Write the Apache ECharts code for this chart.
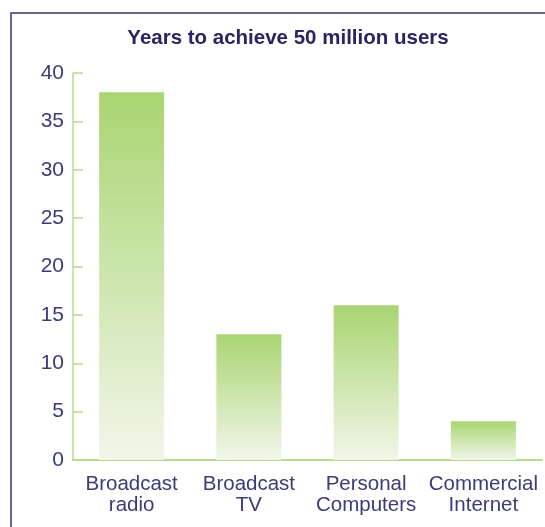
<!DOCTYPE html>
<html><head><meta charset="utf-8">
<script src="https://cdn.jsdelivr.net/npm/echarts@6/dist/echarts.min.js"></script>
<style>html,body{margin:0;padding:0;background:#fff}#c{width:545px;height:527px}</style>
</head><body><div id="c"></div>
<script>
const categories = ["Broadcast\nradio", "Broadcast\nTV", "Personal\nComputers", "Commercial\nInternet"];
const years = [38, 13, 16, 4];
const yTicks = [0, 5, 10, 15, 20, 25, 30, 35, 40];
const titleText = "Years to achieve 50 million users";

const chart = echarts.init(document.getElementById('c'), null, {renderer: 'canvas'});
const axisGreen = '#b4dc8c';
const textColor = '#3d3a7a';
const font = 'Liberation Sans, Arial, sans-serif';
chart.setOption({
  animation: false,
  backgroundColor: '#fff',
  title: {
    text: titleText, left: 283, top: 23, textAlign: 'center',
    textStyle: {fontFamily: font, fontWeight: 'bold', fontSize: 20.5, color: '#2b2362'}
  },
  graphic: [{
    type: 'polyline', silent: true,
    shape: {points: [[11, 530], [11, 13], [550, 13]]},
    style: {stroke: '#3b3673', lineWidth: 1.5, fill: null}
  }],
  grid: {left: 73, right: 3, top: 73, bottom: 67, containLabel: false},
  xAxis: {
    type: 'category', data: categories,
    axisLine: {lineStyle: {color: axisGreen, width: 2}},
    axisTick: {inside: true, length: 9, lineStyle: {color: axisGreen, width: 1.5}},
    axisLabel: {fontFamily: font, fontSize: 20.5, color: textColor, lineHeight: 21, margin: 14, interval: 0}
  },
  yAxis: {
    type: 'value', min: yTicks[0], max: yTicks[yTicks.length - 1], interval: 5,
    splitLine: {show: false},
    axisLine: {show: true, lineStyle: {color: axisGreen, width: 1.5}},
    axisTick: {show: true, inside: true, length: 10, lineStyle: {color: axisGreen, width: 1.5}},
    axisLabel: {fontFamily: font, fontSize: 21, color: textColor, margin: 9}
  },
  series: [{
    type: 'bar', data: years, barWidth: 65,
    itemStyle: {
      color: new echarts.graphic.LinearGradient(0, 0, 0, 1, [
        {offset: 0, color: '#a9d571'},
        {offset: 1, color: '#f2f6ea'}
      ])
    }
  }]
});
</script></body></html>
